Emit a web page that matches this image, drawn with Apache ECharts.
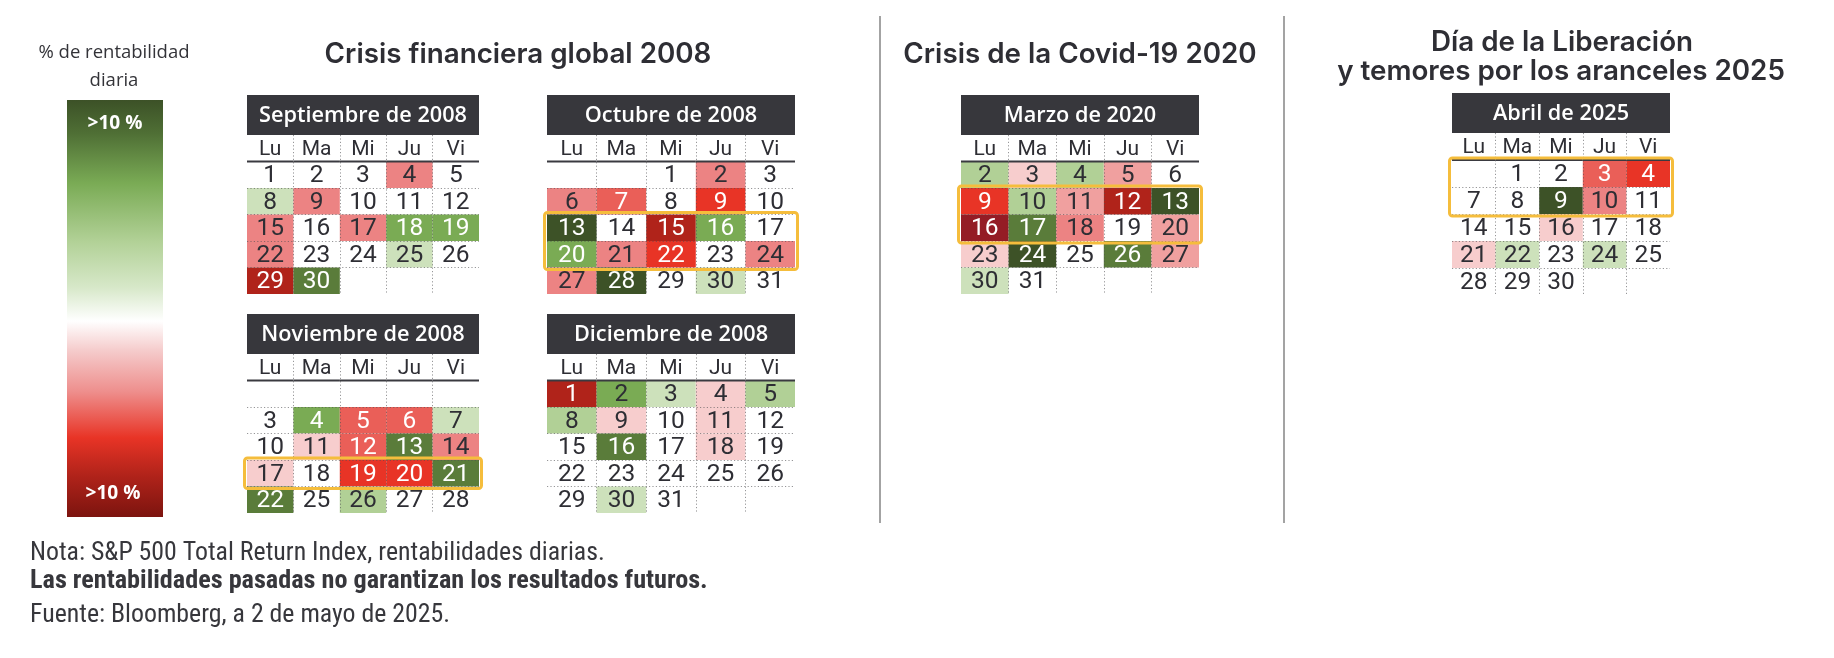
<!DOCTYPE html>
<html><head><meta charset="utf-8">
<script src="https://cdn.jsdelivr.net/npm/echarts@6/dist/echarts.min.js"></script>
<style>html,body{margin:0;padding:0;background:#fff}#c{width:1834px;height:658px}</style>
</head><body><div id="c"></div>
<script>
// ---------------- DATA ----------------
const weekdays = ['Lu', 'Ma', 'Mi', 'Ju', 'Vi'];

const sepTitle = 'Septiembre de 2008';
const sepDays = [[1,2,3,4,5],[8,9,10,11,12],[15,16,17,18,19],[22,23,24,25,26],[29,30,null,null,null]];
const sepRet  = [[null,-0.4,-0.2,-4.2,0.4],[2.1,-4.3,0.6,1.4,0.2],[-4.7,1.7,-4.7,4.3,4.1],[-4.1,-1.6,-0.2,2.0,0.3],[-8.8,5.4,null,null,null]];
const sepHighlight = null;

const octTitle = 'Octubre de 2008';
const octDays = [[null,null,1,2,3],[6,7,8,9,10],[13,14,15,16,17],[20,21,22,23,24],[27,28,29,30,31]];
const octRet  = [[null,null,-0.5,-4.1,-1.4],[-4.2,-5.7,-1.1,-7.6,-1.2],[11.6,-0.5,-9.0,4.3,-0.6],[4.8,-4.1,-6.1,1.3,-4.2],[-4.1,10.8,-1.1,2.6,1.5]];
const octHighlight = [2, 3];

const novTitle = 'Noviembre de 2008';
const novDays = [[null,null,null,null,null],[3,4,5,6,7],[10,11,12,13,14],[17,18,19,20,21],[22,25,26,27,28]];
const novRet  = [[null,null,null,null,null],[-0.3,4.1,-5.3,-5.05,2.9],[-1.3,-2.2,-5.2,6.9,-4.2],[-2.6,1.1,-6.1,-6.7,6.3],[6.5,0.7,3.5,null,1.0]];
const novHighlight = [3, 3];

const decTitle = 'Diciembre de 2008';
const decDays = [[1,2,3,4,5],[8,9,10,11,12],[15,16,17,18,19],[22,23,24,25,26],[29,30,31,null,null]];
const decRet  = [[-8.9,4.0,2.6,-2.9,3.7],[3.8,-2.3,1.2,-2.9,0.7],[-1.3,5.1,-1.0,-2.1,0.3],[-1.8,-1.0,0.6,null,0.5],[-0.4,2.4,1.4,null,null]];
const decHighlight = null;

const marTitle = 'Marzo de 2020';
const marDays = [[2,3,4,5,6],[9,10,11,12,13],[16,17,18,19,20],[23,24,25,26,27],[30,31,null,null,null]];
const marRet  = [[3.5,-2.8,3.6,-3.4,1.7],[-7.6,3.9,-3.5,-9.5,9.3],[-12.0,6.0,-4.5,0.5,-3.4],[-2.9,9.4,1.2,6.2,-3.4],[2.6,-1.6,null,null,null]];
const marHighlight = [1, 2];

const aprTitle = 'Abril de 2025';
const aprDays = [[null,1,2,3,4],[7,8,9,10,11],[14,15,16,17,18],[21,22,23,24,25],[28,29,30,null,null]];
const aprRet  = [[null,0.4,0.7,-5.1,-6.3],[-0.2,-1.6,9.5,-4.1,1.8],[0.8,-0.2,-2.2,0.1,null],[-2.4,2.5,1.7,2.0,0.7],[0.1,0.6,0.1,null,null]];
const aprHighlight = [0, 1];

const sectionTitles = ['Crisis financiera global 2008', 'Crisis de la Covid-19 2020', 'Día de la Liberación', 'y temores por los aranceles 2025'];
const legendTitle = ['% de rentabilidad', 'diaria'];
const legendLabels = ['>10 %', '>10 %'];
const notes = ['Nota: S&P 500 Total Return Index, rentabilidades diarias.',
               'Las rentabilidades pasadas no garantizan los resultados futuros.',
               'Fuente: Bloomberg, a 2 de mayo de 2025.'];

// ---------------- STYLE / LAYOUT ----------------
const C = {
  dg: '#3d5227', mdg: '#5a7c3a', mg: '#7aab54', lmg: '#b1d096', lg: '#cde1bb',
  lp: '#f7cdcd', pk: '#f0a09f', sa: '#ec8383', rs: '#ea5f58', rd: '#e83426', dr: '#b0231a', ddr: '#941c25'
};
function retColor(v) {
  if (v == null) return null;
  if (v >= 8) return C.dg;
  if (v >= 5) return C.mdg;
  if (v >= 3.95) return C.mg;
  if (v >= 3) return C.lmg;
  if (v >= 2) return C.lg;
  if (v > -2) return null;
  if (v > -3) return C.lp;
  if (v > -4) return C.pk;
  if (v > -5) return C.sa;
  if (v > -6) return C.rs;
  if (v > -8) return C.rd;
  if (v > -10) return C.dr;
  return C.ddr;
}
function labelColor(v) {
  if (v != null && (v >= 4.05 || v <= -5)) return '#ffffff';
  return '#2e2e34';
}

// font sizes fitted to the widths measured on the reference
const _ctx = document.createElement('canvas').getContext('2d');
function fitSize(text, weight, family, target) {
  _ctx.font = weight + ' 100px ' + family;
  return 100 * target / _ctx.measureText(text).width;
}
const TITLE_FAM = 'Inter, "Open Sans", sans-serif';
const BAR_FAM = '"Open Sans", "Noto Sans", sans-serif';
const NOTE_FAM = '"Liberation Sans Narrow", "Roboto Condensed", "DejaVu Sans Condensed", sans-serif';
const titleSize = (fitSize(sectionTitles[0], 600, TITLE_FAM, 410) + fitSize(sectionTitles[1], 600, TITLE_FAM, 351) + fitSize(sectionTitles[3], 600, TITLE_FAM, 424)) / 3;
const TITLE_FONT = '600 ' + titleSize.toFixed(2) + 'px ' + TITLE_FAM;
const BAR_FONT = '600 ' + fitSize(sepTitle, 600, BAR_FAM, 208).toFixed(2) + 'px ' + BAR_FAM;
const NUM_FONT = '400 24.5px Roboto, "Noto Sans", sans-serif';
const DAY_FONT = '400 21px Roboto, "Noto Sans", sans-serif';
const LEG_FONT = '400 ' + fitSize(legendTitle[0], 400, BAR_FAM, 151).toFixed(2) + 'px ' + BAR_FAM;
const LEG_LBL_FONT = '700 ' + fitSize(legendLabels[0], 700, BAR_FAM, 55).toFixed(2) + 'px ' + BAR_FAM;
const NOTE_FONT = '400 ' + fitSize(notes[0], 400, NOTE_FAM, 575).toFixed(2) + 'px ' + NOTE_FAM;
const NOTE_BOLD = '700 ' + fitSize(notes[1], 700, NOTE_FAM, 678).toFixed(2) + 'px ' + NOTE_FAM;

const months = [
  {title: sepTitle, days: sepDays, ret: sepRet, hl: sepHighlight, lay: {left: 247, top: 135, width: 232, height: 159, bar: 40}},
  {title: octTitle, days: octDays, ret: octRet, hl: octHighlight, lay: {left: 547, top: 135, width: 248, height: 159, bar: 40}},
  {title: novTitle, days: novDays, ret: novRet, hl: novHighlight, lay: {left: 247, top: 354, width: 232, height: 159, bar: 40}},
  {title: decTitle, days: decDays, ret: decRet, hl: decHighlight, lay: {left: 547, top: 354, width: 248, height: 159, bar: 40}},
  {title: marTitle, days: marDays, ret: marRet, hl: marHighlight, lay: {left: 961, top: 135, width: 238, height: 159, bar: 40}},
  {title: aprTitle, days: aprDays, ret: aprRet, hl: aprHighlight, lay: {left: 1452, top: 133, width: 218, height: 162, bar: 40}}
];

const grids = [], xAxes = [], yAxes = [], series = [], graphics = [];
const dotted = {show: true, showMinLine: false, showMaxLine: false, lineStyle: {color: 'rgba(80,80,84,0.6)', width: 1, type: [1.2, 2.2]}};

months.forEach((m, i) => {
  const L = m.lay;
  grids.push({left: L.left, top: L.top, width: L.width, height: L.height, containLabel: false});
  xAxes.push({type: 'category', gridIndex: i, data: weekdays, position: 'top', boundaryGap: true, z: 4,
    axisLine: {show: false}, axisTick: {show: false}, axisLabel: {show: false}, splitLine: dotted});
  const rowNames = ['hdr'].concat(m.days.map((w, k) => 'w' + (k + 1)));
  yAxes.push({type: 'category', gridIndex: i, data: rowNames, inverse: true, boundaryGap: true, z: 4,
    axisLine: {show: false}, axisTick: {show: false}, axisLabel: {show: false}, splitLine: dotted});

  // month header bar
  graphics.push({type: 'rect', shape: {x: L.left, y: L.top - L.bar, width: L.width, height: L.bar}, style: {fill: '#37373c'}, z: 10});
  graphics.push({type: 'text', x: L.left + L.width / 2, y: L.top - L.bar / 2 + 1, z: 11,
    style: {text: m.title, fill: '#ffffff', font: BAR_FONT, align: 'center', verticalAlign: 'middle'}});

  // weekday header row + underline
  series.push({type: 'custom', xAxisIndex: i, yAxisIndex: i, z: 6, silent: true,
    data: weekdays.map((d, c) => [c, 0]),
    renderItem: (params, api) => {
      const p = api.coord([api.value(0), 0]);
      const s = api.size([1, 1]);
      return {type: 'group', children: [
        {type: 'text', style: {text: weekdays[params.dataIndex], x: p[0], y: p[1] + 1, fill: '#2e2e34', font: DAY_FONT, align: 'center', verticalAlign: 'middle'}},
        {type: 'line', shape: {x1: p[0] - s[0] / 2, y1: p[1] + s[1] / 2, x2: p[0] + s[0] / 2, y2: p[1] + s[1] / 2}, style: {stroke: '#3a3a40', lineWidth: 2.2}}
      ]};
    }});

  // day cells
  const items = [];
  m.days.forEach((week, r) => week.forEach((d, c) => {
    if (d !== null) items.push({c: c, r: r + 1, day: d, v: m.ret[r][c]});
  }));
  series.push({type: 'custom', xAxisIndex: i, yAxisIndex: i, z: 2, silent: true,
    data: items.map(it => [it.c, it.r]),
    renderItem: (params, api) => {
      const it = items[params.dataIndex];
      const p = api.coord([api.value(0), api.value(1)]);
      const s = api.size([1, 1]);
      const fill = retColor(it.v);
      const children = [];
      if (fill) children.push({type: 'rect', shape: {x: p[0] - s[0] / 2, y: p[1] - s[1] / 2, width: s[0], height: s[1]}, style: {fill: fill}});
      children.push({type: 'text', style: {text: String(it.day), x: p[0], y: p[1] + 1.5, fill: labelColor(it.v), font: NUM_FONT, align: 'center', verticalAlign: 'middle'}});
      return {type: 'group', children: children};
    }});

  // highlighted weeks
  if (m.hl) {
    series.push({type: 'custom', xAxisIndex: i, yAxisIndex: i, z: 7, silent: true,
      data: [[0, m.hl[0] + 1, 4, m.hl[1] + 1]],
      renderItem: (params, api) => {
        const a = api.coord([api.value(0), api.value(1)]);
        const b = api.coord([api.value(2), api.value(3)]);
        const s = api.size([1, 1]);
        return {type: 'rect', shape: {x: a[0] - s[0] / 2 - 2.5, y: a[1] - s[1] / 2 - 2, width: b[0] - a[0] + s[0] + 5, height: b[1] - a[1] + s[1] + 4, r: 3},
          style: {fill: null, stroke: '#f5bd3c', lineWidth: 3}};
      }});
  }
});

// section titles
graphics.push({type: 'text', x: 518, y: 55, style: {text: sectionTitles[0], font: TITLE_FONT, fill: '#2e2e34', align: 'center', verticalAlign: 'middle'}});
graphics.push({type: 'text', x: 1080, y: 55, style: {text: sectionTitles[1], font: TITLE_FONT, fill: '#2e2e34', align: 'center', verticalAlign: 'middle'}});
graphics.push({type: 'text', x: 1562, y: 43, style: {text: sectionTitles[2], font: TITLE_FONT, fill: '#2e2e34', align: 'center', verticalAlign: 'middle'}});
graphics.push({type: 'text', x: 1561, y: 72, style: {text: sectionTitles[3], font: TITLE_FONT, fill: '#2e2e34', align: 'center', verticalAlign: 'middle'}});

// dividers
graphics.push({type: 'line', shape: {x1: 880, y1: 16, x2: 880, y2: 523}, style: {stroke: '#a3a3a3', lineWidth: 2}});
graphics.push({type: 'line', shape: {x1: 1284, y1: 16, x2: 1284, y2: 523}, style: {stroke: '#a3a3a3', lineWidth: 2}});

// legend
graphics.push({type: 'text', x: 114, y: 53, style: {text: legendTitle[0], font: LEG_FONT, fill: '#333338', align: 'center', verticalAlign: 'middle'}});
graphics.push({type: 'text', x: 114, y: 81, style: {text: legendTitle[1], font: LEG_FONT, fill: '#333338', align: 'center', verticalAlign: 'middle'}});
graphics.push({type: 'rect', shape: {x: 67, y: 100, width: 96, height: 417}, style: {
  fill: new echarts.graphic.LinearGradient(0, 0, 0, 1, [
    {offset: 0, color: '#3c5127'}, {offset: 0.08, color: '#4f6f35'}, {offset: 0.2, color: '#7aab55'},
    {offset: 0.34, color: '#b2d197'}, {offset: 0.45, color: '#d7e8c9'}, {offset: 0.53, color: '#ffffff'},
    {offset: 0.6, color: '#f5cccc'}, {offset: 0.7, color: '#ee8e8c'}, {offset: 0.81, color: '#e83426'},
    {offset: 0.9, color: '#b1231a'}, {offset: 1, color: '#7c140f'}])}});
graphics.push({type: 'text', x: 115, y: 124, style: {text: legendLabels[0], font: LEG_LBL_FONT, fill: '#ffffff', align: 'center', verticalAlign: 'middle'}});
graphics.push({type: 'text', x: 113, y: 494, style: {text: legendLabels[1], font: LEG_LBL_FONT, fill: '#ffffff', align: 'center', verticalAlign: 'middle'}});

// notes
graphics.push({type: 'text', x: 30, y: 554, style: {text: notes[0], font: NOTE_FONT, fill: '#37373c', align: 'left', verticalAlign: 'middle'}});
graphics.push({type: 'text', x: 30, y: 581, style: {text: notes[1], font: NOTE_BOLD, fill: '#37373c', align: 'left', verticalAlign: 'middle'}});
graphics.push({type: 'text', x: 30, y: 616, style: {text: notes[2], font: NOTE_FONT, fill: '#37373c', align: 'left', verticalAlign: 'middle'}});

const chart = echarts.init(document.getElementById('c'), null, {renderer: 'canvas'});
chart.setOption({
  animation: false,
  backgroundColor: '#ffffff',
  grid: grids, xAxis: xAxes, yAxis: yAxes, series: series,
  graphic: {elements: graphics}
});
</script>
</body></html>
